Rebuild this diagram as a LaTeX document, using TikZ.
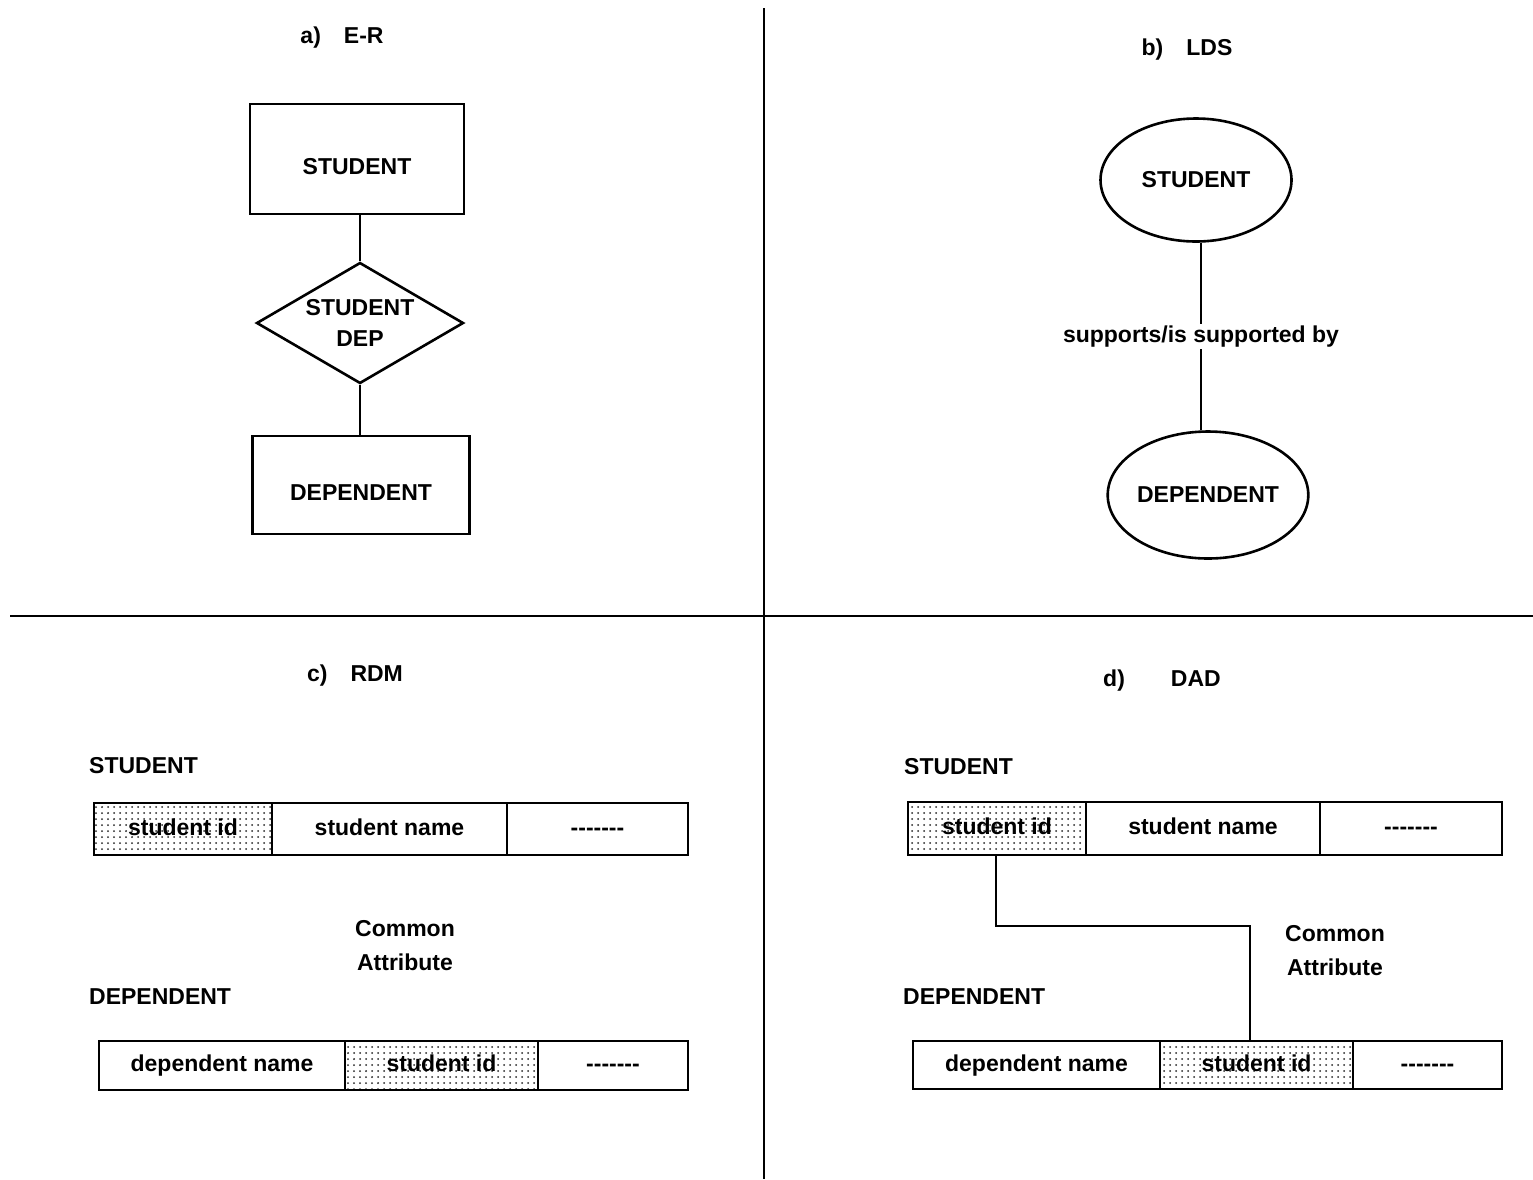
\documentclass[tikz,border=0pt]{standalone}
\usepackage{fontspec}
\setmainfont{Liberation Sans}[Ligatures=NoCommon]
\usetikzlibrary{shapes.geometric,patterns.meta}
\newcommand{\dashrow}{-{}-{}-{}-{}-{}-{}-}
\begin{document}
\begin{tikzpicture}[x=1pt,y=-1pt,
  every node/.style={font=\fontsize{23}{34}\selectfont\bfseries},
  ln/.style={line width=2.6pt},
  box/.style={draw,line width=2.6pt,rectangle,inner sep=0pt,text height=30pt,text depth=0pt},
  cell/.style={draw,line width=2.4pt,rectangle,inner sep=0pt,minimum height=52pt,text height=17pt,text depth=5pt},
  shaded/.style={pattern={Dots[distance=6pt,radius=1pt]},pattern color=black!85},
  lbl/.style={inner sep=1pt},
  oval/.style={draw,line width=2.6pt,ellipse,inner sep=0pt}]
\useasboundingbox (0,0) rectangle (1533,1179);
\fill[white] (0,0) rectangle (1533,1179);
% dividers
\coordinate (vt) at (764,8);
\coordinate (vb) at (764,1179);
\coordinate (hl) at (10,616);
\coordinate (hr) at (1533,616);
\draw[ln] (vt) -- (vb);
\draw[ln] (hl) -- (hr);
% titles
\node[lbl] (ta) at (342,38) {a)\quad E-R};
\node[lbl] (tb) at (1187,50) {b)\quad LDS};
\node[lbl] (tc) at (355,676) {c)\quad RDM};
\node[lbl] (td) at (1162,681) {d)\qquad DAD};
% a) E-R
\node[box,minimum width=214pt,minimum height=110pt] (erS) at (357,159) {STUDENT};
\node[draw,line width=2.6pt,diamond,aspect=1.7,minimum width=207pt,minimum height=121pt,inner sep=0pt,align=center] (erR) at (360,323) {STUDENT\\[-3pt]DEP};
\node[box,minimum width=217pt,minimum height=98pt] (erD) at (361,485) {DEPENDENT};
\draw[ln] (erS.south -| erR.north) -- (erR.north);
\draw[ln] (erR.south) -- (erD.north -| erR.south);
% b) LDS
\node[oval,minimum width=191pt,minimum height=123pt] (ldS) at (1196,180) {STUDENT};
\node[oval,minimum width=194pt,minimum height=127pt] (ldD) at (1208,495) {DEPENDENT};
\draw[ln] (ldS.south -| 1201,0) -- (ldD.north -| 1201,0)
  node[pos=0.5,fill=white,inner sep=2pt] (ldl) {supports/is supported by};
% c) RDM
\node[lbl,anchor=west] (cS) at (88,766) {STUDENT};
\node[cell,shaded,minimum width=178pt] (c1) at (183,829) {student id};
\node[cell,minimum width=235pt] (c2) at (389.5,829) {student name};
\node[cell,minimum width=181pt] (c3) at (597.5,829) {\dashrow};
\node[lbl,align=center] (cca) at (405,946) {Common\\Attribute};
\node[lbl,anchor=west] (cD) at (88,997) {DEPENDENT};
\node[cell,minimum width=246pt,minimum height=49pt] (c4) at (222,1065.5) {dependent name};
\node[cell,shaded,minimum width=193pt,minimum height=49pt] (c5) at (441.5,1065.5) {student id};
\node[cell,minimum width=150pt,minimum height=49pt] (c6) at (613,1065.5) {\dashrow};
% d) DAD
\node[lbl,anchor=west] (dS) at (903,767) {STUDENT};
\node[cell,shaded,minimum width=178pt,minimum height=53pt] (d1) at (997,828.5) {student id};
\node[cell,minimum width=234pt,minimum height=53pt] (d2) at (1203,828.5) {student name};
\node[cell,minimum width=182pt,minimum height=53pt] (d3) at (1411,828.5) {\dashrow};
\node[lbl,align=center] (dca) at (1335,951) {Common\\Attribute};
\node[lbl,anchor=west] (dD) at (902,997) {DEPENDENT};
\node[cell,minimum width=247pt,minimum height=48pt] (d4) at (1036.5,1065) {dependent name};
\node[cell,shaded,minimum width=193pt,minimum height=48pt] (d5) at (1256.5,1065) {student id};
\node[cell,minimum width=149pt,minimum height=48pt] (d6) at (1427.5,1065) {\dashrow};
\draw[ln] (d1.south -| 996,0) |- (1250,926) -- (d5.north -| 1250,0);
\end{tikzpicture}
\end{document}
